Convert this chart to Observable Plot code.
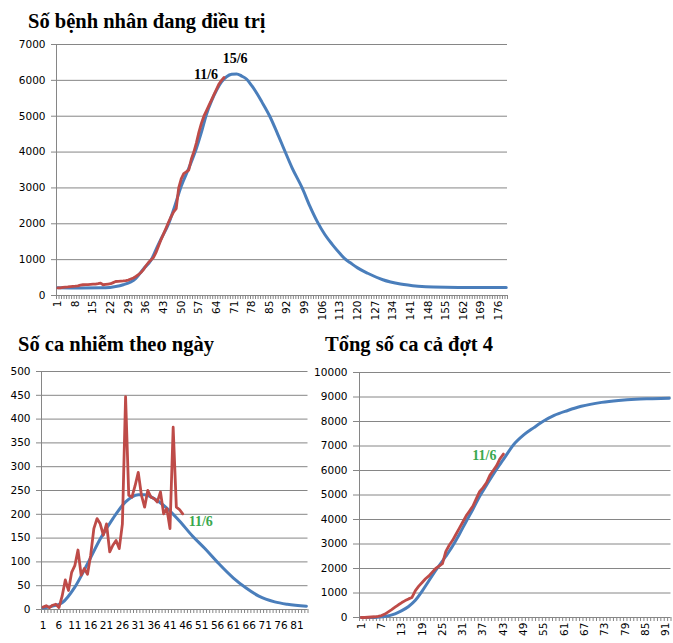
<!DOCTYPE html>
<html>
<head>
<meta charset="utf-8">
<script src="https://cdn.jsdelivr.net/npm/d3@7"></script>
<script src="https://cdn.jsdelivr.net/npm/@observablehq/plot@0.6"></script>
<style>
  html, body { margin: 0; padding: 0; background: #fff; }
  #root { position: relative; width: 673px; height: 643px; overflow: hidden; background: #fff; }
  .title { position: absolute; font-family: "Liberation Serif", "Times New Roman", serif; font-weight: bold; font-size: 20.5px; line-height: 20.5px; color: #000; white-space: nowrap; }
  .panel { position: absolute; }
  .panel svg { overflow: visible; }
</style>
</head>
<body>
<div id="root">
  <div class="title" style="left:28px; top:11px;">Số bệnh nhân đang điều trị</div>
  <div class="title" style="left:18px; top:334px;">Số ca nhiễm theo ngày</div>
  <div class="title" style="left:325px; top:334px;">Tổng số ca cả đợt 4</div>
  <div class="panel" id="p1" style="left:0px; top:36px;"></div>
  <div class="panel" id="p2" style="left:0px; top:362px;"></div>
  <div class="panel" id="p3" style="left:312px; top:362px;"></div>
</div>
<script>
// ---------- Panel 1: Số bệnh nhân đang điều trị ----------
const treatDayCount = 179;
const treatYTicks = [0, 1000, 2000, 3000, 4000, 5000, 6000, 7000];
const treatXLabels = [1, 8, 15, 22, 29, 36, 43, 50, 57, 64, 71, 78, 85, 92, 99, 106, 113, 120, 127, 134, 141, 148, 155, 162, 169, 176];
// forecast (blue) – sampled days and values
const treatForecastDays = [1, 10, 20, 24, 27, 30, 32, 35, 38, 40, 42, 45, 47, 50, 53, 56, 58, 60, 62, 64, 66, 68, 70, 72, 74, 76, 78, 80, 82, 85, 88, 91, 94, 98, 101, 104, 107, 110, 113, 115, 117, 120, 124, 130, 137, 144, 150, 160, 179];
const treatForecast = [215, 210, 215, 250, 300, 380, 480, 740, 980, 1280, 1580, 2000, 2400, 3050, 3550, 4100, 4550, 5050, 5420, 5720, 5960, 6100, 6170, 6180, 6120, 6030, 5850, 5640, 5400, 5020, 4550, 4050, 3560, 3000, 2500, 2060, 1700, 1420, 1170, 1020, 920, 770, 620, 440, 320, 260, 235, 225, 225];
// actual (red) – day 1..67
const treatActual = [210, 215, 225, 235, 240, 250, 255, 260, 270, 290, 300, 305, 305, 310, 315, 320, 330, 345, 300, 310, 320, 330, 360, 390, 395, 400, 405, 415, 430, 460, 490, 530, 580, 640, 720, 830, 920, 990, 1060, 1200, 1380, 1560, 1720, 1880, 2050, 2200, 2330, 2420, 3000, 3250, 3400, 3450, 3500, 3800, 4000, 4250, 4550, 4800, 5000, 5150, 5300, 5450, 5600, 5750, 5900, 6000, 6080];
const treatNotes = [
  {day: 71, value: 6180, text: "15/6"},
  {day: 67, value: 6080, text: "11/6"}
];

// ---------- Panel 2: Số ca nhiễm theo ngày ----------
const dailyDayCount = 84;
const dailyYTicks = [0, 50, 100, 150, 200, 250, 300, 350, 400, 450, 500];
const dailyXLabels = [1, 6, 11, 16, 21, 26, 31, 36, 41, 46, 51, 56, 61, 66, 71, 76, 81];
const dailyForecastDays = [1, 4, 7, 11, 15, 19, 23, 27, 31, 33, 36, 40, 44, 48, 52, 56, 61, 65, 69, 74, 78, 84];
const dailyForecast = [3, 7, 14, 47, 96, 148, 191, 226, 241, 241, 233, 213, 186, 155, 128, 99, 66, 45, 28, 16, 11, 7];
const dailyActual = [5, 8, 4, 9, 11, 4, 28, 62, 40, 78, 92, 125, 72, 86, 74, 114, 170, 191, 180, 156, 180, 121, 135, 145, 128, 180, 447, 240, 236, 260, 288, 240, 215, 250, 236, 233, 226, 247, 201, 212, 170, 383, 215, 210, 201];
const dailyNotes = [{day: 45, value: 201, text: "11/6"}];

// ---------- Panel 3: Tổng số ca cả đợt 4 ----------
const totalDayCount = 92;
const totalYTicks = [0, 1000, 2000, 3000, 4000, 5000, 6000, 7000, 8000, 9000, 10000];
const totalXLabels = [1, 7, 13, 19, 25, 31, 37, 43, 49, 55, 61, 67, 73, 79, 85, 91];
const totalForecastDays = [1, 5, 8, 11, 13, 15, 17, 19, 21, 23, 26, 28, 30, 32, 34, 36, 38, 41, 43, 46, 49, 52, 55, 58, 62, 66, 72, 77, 82, 87, 92];
const totalForecast = [0, 5, 40, 150, 280, 450, 700, 1080, 1500, 1920, 2500, 2920, 3400, 3920, 4420, 4950, 5400, 6050, 6450, 7050, 7450, 7750, 8030, 8250, 8450, 8620, 8780, 8860, 8910, 8930, 8950];
const totalActual = [0, 0, 10, 20, 30, 50, 80, 140, 230, 320, 420, 520, 610, 690, 760, 820, 1100, 1280, 1430, 1580, 1700, 1850, 2000, 2100, 2200, 2700, 2950, 3150, 3400, 3650, 3900, 4150, 4350, 4550, 4850, 5150, 5300, 5500, 5800, 6000, 6200, 6480, 6670];
const totalNotes = [{day: 43, value: 6670, text: "11/6"}];

// ---------- styling ----------
const BLUE = "#4a7ebb", RED = "#be4b48", GRID = "#868686", GREEN = "#3aa84e";

function makePanel(cfg) {
  const forecast = cfg.fDays.map((d, i) => ({day: d, value: cfg.fVals[i]}));
  const actual = cfg.aVals.map((v, i) => ({day: i + 1, value: v}));
  const bounds = d3.range(0.5, cfg.n + 1, 1);
  const [yLo, yHi] = [cfg.yTicks[0], cfg.yTicks[cfg.yTicks.length - 1]];
  return Plot.plot({
    width: cfg.width, height: cfg.height,
    marginLeft: cfg.ml, marginRight: cfg.mr, marginTop: cfg.mt, marginBottom: cfg.mb,
    style: {fontFamily: "'DejaVu Sans', Verdana, sans-serif", fontSize: "10.5px", color: "#000", background: "transparent", overflow: "visible"},
    x: {type: "linear", domain: [0.5, cfg.n + 0.5]},
    y: {type: "linear", domain: [yLo, yHi]},
    marks: [
      Plot.gridY(cfg.yTicks, {stroke: GRID, strokeOpacity: 1, strokeWidth: 1}),
      Plot.ruleX([0.5], {y1: yLo, y2: yHi, stroke: GRID, strokeWidth: 1}),
      Plot.axisY({ticks: cfg.yTicks, tickSize: cfg.yTickSize, tickPadding: cfg.yTickPad, stroke: GRID, fill: "#000", label: null, tickFormat: d => String(d)}),
      Plot.axisX({ticks: bounds, tickSize: 4, tickPadding: 0, tickFormat: () => "", stroke: GRID, label: null}),
      Plot.axisX({ticks: cfg.xLabels, tickSize: 0, tickPadding: cfg.xPad, tickRotate: cfg.rotate, fill: "#000", label: null, tickFormat: d => String(d)}),
      Plot.line(forecast, {x: "day", y: "value", stroke: BLUE, strokeWidth: 3, curve: "monotone-x", strokeLinejoin: "round"}),
      Plot.line(actual, {x: "day", y: "value", stroke: RED, strokeWidth: 2.8, strokeLinejoin: "round", strokeLinecap: "round"}),
      ...cfg.notes.map(n => Plot.text(n.data, {x: "day", y: "value", text: "text", fill: n.color, fontFamily: "'Liberation Serif', 'Times New Roman', serif", fontWeight: "bold", fontSize: 14, textAnchor: n.anchor, dx: n.dx, dy: n.dy}))
    ]
  });
}

document.getElementById("p1").appendChild(makePanel({
  width: 520, height: 290, ml: 56, mr: 13, mt: 8, mb: 31,
  n: treatDayCount, yTicks: treatYTicks, xLabels: treatXLabels, rotate: -90, xPad: 5,
  yTickSize: 5, yTickPad: 6,
  fDays: treatForecastDays, fVals: treatForecast, aVals: treatActual,
  notes: [
    {data: [treatNotes[0]], color: "#000", anchor: "middle", dx: 1, dy: -15},
    {data: [treatNotes[1]], color: "#000", anchor: "end", dx: -6, dy: -3}
  ]
}));

document.getElementById("p2").appendChild(makePanel({
  width: 312, height: 281, ml: 41, mr: 4.5, mt: 9, mb: 34,
  n: dailyDayCount, yTicks: dailyYTicks, xLabels: dailyXLabels, rotate: 0, xPad: 12,
  yTickSize: 5, yTickPad: 6,
  fDays: dailyForecastDays, fVals: dailyForecast, aVals: dailyActual,
  notes: [{data: dailyNotes, color: GREEN, anchor: "start", dx: 6, dy: 8}]
}));

document.getElementById("p3").appendChild(makePanel({
  width: 361, height: 281, ml: 47, mr: 2.5, mt: 10, mb: 26,
  n: totalDayCount, yTicks: totalYTicks, xLabels: totalXLabels, rotate: -90, xPad: 5,
  yTickSize: 6, yTickPad: 6,
  fDays: totalForecastDays, fVals: totalForecast, aVals: totalActual,
  notes: [{data: totalNotes, color: GREEN, anchor: "end", dx: -7, dy: 1}]
}));
</script>
</body>
</html>
